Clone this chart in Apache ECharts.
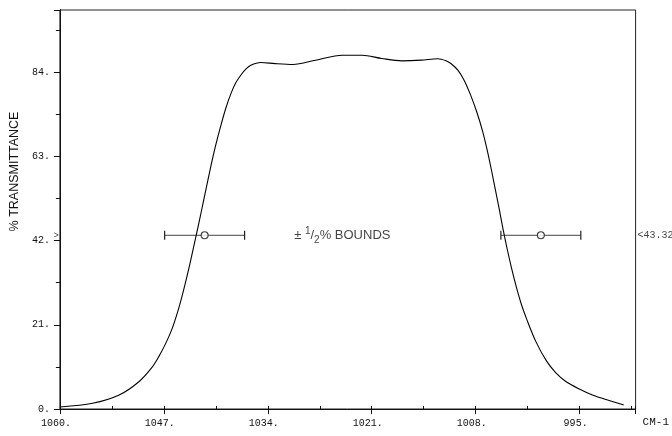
<!DOCTYPE html>
<html>
<head>
<meta charset="utf-8">
<script src="https://cdn.jsdelivr.net/npm/echarts@6/dist/echarts.min.js"></script>
<style>
html,body{margin:0;padding:0;background:#fff;}
#chart{width:672px;height:436px;}
</style>
</head>
<body>
<div id="chart"></div>
<script>
// ---- data ----
const wavenumber = [1060, 1055.92, 1052.59, 1050.12, 1048.51, 1047.65, 1046.78, 1046.01, 1045.37, 1044.77, 1044.25, 1043.74, 1042.99, 1042.34, 1041.72, 1041.07, 1040.49, 1039.83, 1039.25, 1038.60, 1038.02, 1037.36, 1036.78, 1036.13, 1034.89, 1033.08, 1030.85, 1028.01, 1024.68, 1022.21, 1019.74, 1017.27, 1014.80, 1012.74, 1011.71, 1011.10, 1010.23, 1009.45, 1008.63, 1007.80, 1007.14, 1006.56, 1006.03, 1005.54, 1005.04, 1004.59, 1004.06, 1003.50, 1002.86, 1002.27, 1001.62, 1000.47, 999.15, 998.00, 996.68, 995.04, 993.40, 991.33, 989.48];
const transmittance = [0.5, 1.42, 3.49, 6.80, 10.3, 13.0, 16.3, 19.8, 23.6, 27.8, 31.9, 36.2, 43.0, 49.0, 54.9, 61.0, 66.0, 71.0, 75.0, 78.7, 81.3, 83.3, 84.7, 85.7, 86.4, 86.12, 85.92, 86.99, 88.23, 88.23, 87.41, 86.82, 86.99, 87.36, 86.86, 86.17, 84.50, 82.00, 78.27, 73.70, 69.29, 64.56, 59.6, 54.7, 49.7, 45.0, 39.9, 35.0, 30.0, 26.0, 22.4, 16.8, 12.0, 9.1, 6.8, 4.99, 3.49, 2.12, 1.00];
const boundCenters = [1041.9, 999.85];
const boundHalfWidth = 5;
const boundLevel = 43.32;
const xTickLabels = [1060, 1047, 1034, 1021, 1008, 995];
const yTickLabels = [0, 21, 42, 63, 84];
const xStart = 1060, xEnd = 988;   // axis runs from 1060 down to 988 cm-1
const yMax = 99.5;

// position along axis = distance from 1060
const pos = w => xStart - w;

const curve = wavenumber.map((w, i) => [pos(w), transmittance[i]]);
const mono = 'Liberation Mono';
const ink = '#111';

const series = [{
  type: 'line', data: curve, smooth: 0.3, symbol: 'none',
  lineStyle: {color: '#000', width: 1.1}, z: 3
}];
boundCenters.forEach(c => {
  series.push({
    type: 'line',
    data: [[pos(c + boundHalfWidth), boundLevel], [pos(c - boundHalfWidth), boundLevel]],
    symbol: 'rect', symbolSize: [1.2, 9], showSymbol: true,
    itemStyle: {color: '#222'},
    lineStyle: {color: '#444', width: 1},
    z: 2
  });
});
series.push({
  type: 'scatter', data: boundCenters.map(c => [pos(c), boundLevel]),
  symbol: 'circle', symbolSize: 7,
  itemStyle: {color: '#fff', borderColor: '#111', borderWidth: 1.1}, z: 4
});
series.push({
  type: 'scatter', symbolSize: 0, silent: true,
  data: [
    {value: [pos(1030.7), boundLevel], label: {show: true, position: 'right', distance: 0,
      formatter: '{a|± }{s|1}{a|/}{b|2}{a|% BOUNDS}',
      rich: {
        a: {fontFamily: 'Liberation Sans', fontSize: 13, color: ink, lineHeight: 22, verticalAlign: 'middle'},
        s: {fontFamily: 'Liberation Sans', fontSize: 10, color: ink, lineHeight: 22, verticalAlign: 'top', padding: [2,0,0,0]},
        b: {fontFamily: 'Liberation Sans', fontSize: 10, color: ink, lineHeight: 22, verticalAlign: 'bottom', padding: [0,0,1,0]}
      }}},
    {value: [pos(xEnd), boundLevel], label: {show: true, position: 'right', distance: 2,
      formatter: '<43.32', fontFamily: mono, fontSize: 10, color: ink}},
    {value: [pos(xStart), boundLevel], label: {show: true, position: 'left', distance: 1,
      formatter: '>', fontFamily: mono, fontSize: 9, color: ink}}
  ]
});

const chart = echarts.init(document.getElementById('chart'), null, {renderer: 'canvas'});
chart.setOption({
  animation: false,
  backgroundColor: '#fff',
  grid: {left: 54, right: 35, top: 10, bottom: 27, show: true, borderColor: '#222', borderWidth: 1, backgroundColor: 'transparent'},
  xAxis: [{
    type: 'value', min: 0, max: xStart - xEnd, interval: 13, position: 'bottom',
    axisLine: {lineStyle: {color: '#111', width: 1}},
    axisTick: {length: 5, lineStyle: {color: '#111'}},
    minorTick: {show: false},
    splitLine: {show: false},
    axisLabel: {
      formatter: v => xTickLabels.includes(xStart - v) ? (xStart - v) + '.' : '',
      fontFamily: mono, fontSize: 10, color: ink, margin: 9, padding: [0, 8, 0, 0]
    },
    name: 'CM-1', nameLocation: 'end', nameGap: 7,
    nameTextStyle: {fontFamily: mono, fontSize: 11, color: ink, verticalAlign: 'top', padding: [8, 0, 0, 0]}
  }, {
    type: 'value', min: 0, max: xStart - xEnd, interval: 13, position: 'bottom',
    axisLine: {show: false},
    axisTick: {inside: true, length: 3, lineStyle: {color: '#111'}},
    minorTick: {show: true, splitNumber: 2, length: 3, lineStyle: {color: '#111'}},
    splitLine: {show: false}, axisLabel: {show: false}
  }],
  yAxis: [{
    type: 'value', min: 0, max: yMax, interval: 21, position: 'left',
    axisLine: {show: true, lineStyle: {color: '#111', width: 1}},
    axisTick: {show: true, length: 6, lineStyle: {color: '#111'}},
    minorTick: {show: true, splitNumber: 2, length: 3, lineStyle: {color: '#111'}},
    splitLine: {show: false},
    axisLabel: {
      formatter: v => yTickLabels.includes(v) ? v + '.' : '',
      fontFamily: mono, fontSize: 10, color: ink, margin: 10
    },
    name: '% TRANSMITTANCE', nameLocation: 'middle', nameGap: 30, nameRotate: 90,
    nameTextStyle: {fontFamily: 'Liberation Sans', fontSize: 12.5, color: ink, padding: [0, 0, 0, 76]}
  }, {
    type: 'value', min: 0, max: yMax, interval: 10.5, position: 'right',
    axisLine: {show: true, lineStyle: {color: '#111', width: 1}},
    axisTick: {show: true, inside: true, length: 4, lineStyle: {color: '#111'}},
    splitLine: {show: false}, axisLabel: {show: false}
  }],
  series: series
});
</script>
</body>
</html>
